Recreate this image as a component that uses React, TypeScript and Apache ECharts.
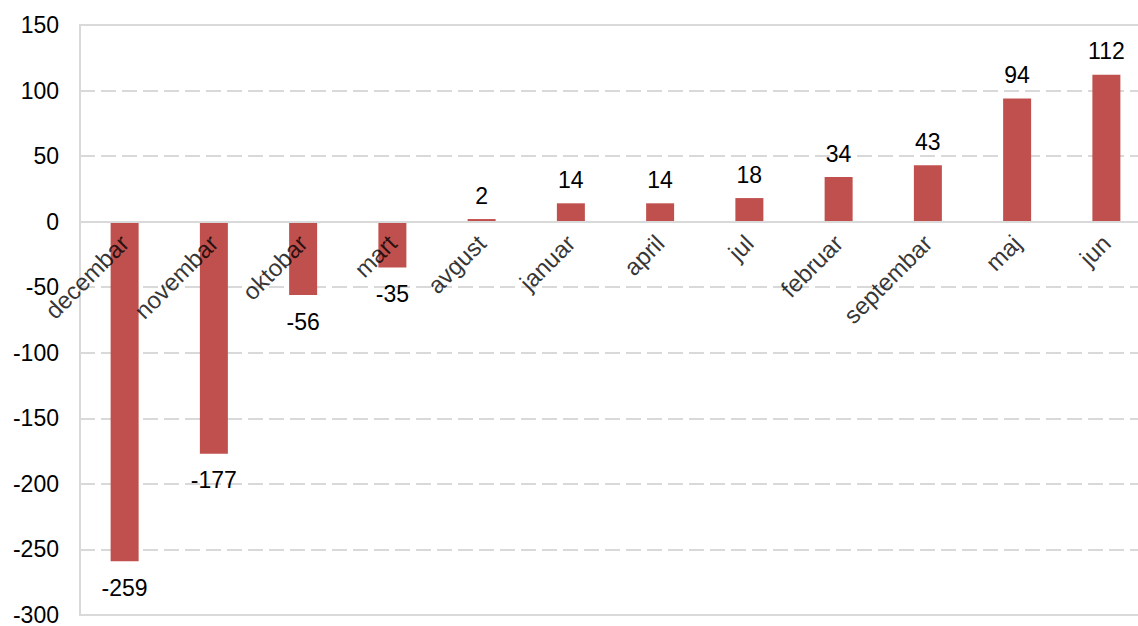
import React, { useEffect, useRef } from "react";
import * as echarts from "echarts";

const categories = ["decembar", "novembar", "oktobar", "mart", "avgust", "januar", "april", "jul", "februar", "septembar", "maj", "jun"];
const values = [-259, -177, -56, -35, 2, 14, 14, 18, 34, 43, 94, 112];
const yMin = -300;
const yMax = 150;
const yInterval = 50;

export default function App() {
  const ref = useRef<HTMLDivElement>(null);
  useEffect(() => {
    if (!ref.current) return;
    const chart = echarts.init(ref.current, null, { renderer: "svg" });
    const font = "'Liberation Sans', Arial, sans-serif";
    chart.setOption({
      animation: false,
      grid: {
        left: 80,
        top: 25,
        bottom: 11,
        right: -13,
        show: true,
        borderColor: "#d9d9d9",
        borderWidth: 2,
        containLabel: false,
        outerBoundsMode: "none",
      },
      xAxis: {
        type: "category",
        data: categories,
        axisLine: { onZero: true, lineStyle: { color: "#d9d9d9", width: 2 } },
        axisTick: { show: false },
        axisLabel: { show: false },
        z: 10,
      },
      yAxis: {
        type: "value",
        min: yMin,
        max: yMax,
        interval: yInterval,
        axisLine: { show: true, lineStyle: { color: "#d9d9d9", width: 2 } },
        axisTick: { show: false },
        axisLabel: { fontSize: 23, fontFamily: font, color: "#000", margin: 21 },
        splitLine: { lineStyle: { color: "#d9d9d9", width: 2, type: [15, 6] } },
      },
      series: [
        {
          type: "bar",
          barWidth: 28,
          data: values.map((v) => ({
            value: v,
            label: { position: v < 0 ? "bottom" : "top", distance: v < 0 ? 15 : 12 },
          })),
          itemStyle: { color: "#C0504D" },
          label: {
            show: true,
            fontSize: 23,
            fontFamily: font,
            color: "#000",
          },
        },
        {
          type: "scatter",
          symbolSize: 1,
          z: 5,
          silent: true,
          itemStyle: { color: "rgba(0,0,0,0)" },
          data: categories.map((c) => [c, 0]),
          label: {
            show: true,
            formatter: (p: any) => p.data[0],
            position: "bottom",
            distance: 17,
            rotate: 45,
            align: "right",
            verticalAlign: "middle",
            fontSize: 24,
            fontFamily: font,
            color: "#000",
          },
        },
      ],
    });
    return () => chart.dispose();
  }, []);
  return <div ref={ref} style={{ width: 1138, height: 626, position: "absolute", left: 0, top: 0 }} />;
}
